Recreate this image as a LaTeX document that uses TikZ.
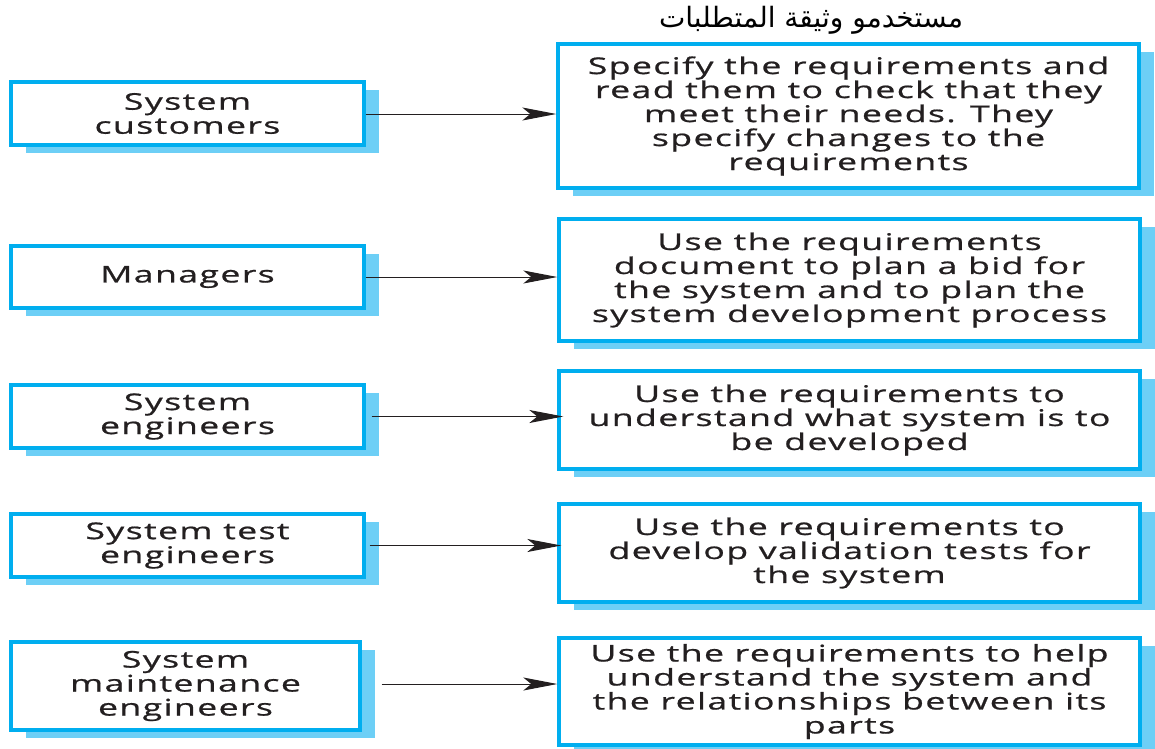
\documentclass[tikz,border=0pt]{standalone}
\usepackage{fontspec}
\setmainfont{Open Sans}[FakeStretch=1.55, LetterSpace=6, FakeBold=0.8]
\newfontfamily\arabicfont[Script=Arabic]{DejaVu Sans}
\TeXXeTstate=1
\usetikzlibrary{arrows.meta,shadows}
\definecolor{edgeblue}{HTML}{00AEEF}
\definecolor{shadeblue}{HTML}{6DCFF6}
\definecolor{inkdark}{HTML}{231F20}
\tikzset{
  rolebox/.style={draw=edgeblue, line width=3.4pt, fill=white, text=inkdark,
    align=center, inner sep=0pt,
    font=\fontsize{23}{24}\selectfont,
    drop shadow={shadow xshift=15pt, shadow yshift=-8pt, fill=shadeblue, opacity=1}},
  leftbox/.style={rolebox, minimum width=353pt},
  rightbox/.style={rolebox, minimum width=581pt},
  arr/.style={draw=inkdark, line width=1pt, -{Stealth[length=34pt, width=13pt, inset=8pt]}}
}
\begin{document}
\begin{tikzpicture}[x=1pt, y=-1pt]
\useasboundingbox (0,0) rectangle (1155,748);

% heading
\node (title) at (811,20) {\arabicfont\fontsize{28}{30}\selectfont\beginR مستخدمو وثيقة المتطلبات\endR};

% reader groups
\node[leftbox, minimum height=63pt] (l1) at (187.5,113.5) {System\\customers};
\node[leftbox, minimum height=62pt] (l2) at (187.5,277) {Managers};
\node[leftbox, minimum height=63pt] (l3) at (187.5,416.5) {System\\engineers};
\node[leftbox, minimum height=63pt] (l4) at (187.5,545.5) {System test\\engineers};
\node[leftbox, minimum width=349pt, minimum height=88pt] (l5) at (185.5,686) {System\\maintenance\\engineers};

% how each group uses the document
\node[rightbox, minimum height=144pt] (r1) at (848.5,116) {Specify the requirements and\\read them to check that they\\meet their needs. They\\specify changes to the\\requirements};
\node[rightbox, minimum height=122pt] (r2) at (849.5,280) {Use the requirements\\document to plan a bid for\\the system and to plan the\\system development process};
\node[rightbox, minimum height=98pt] (r3) at (849.5,420) {Use the requirements to\\understand what system is to\\be developed};
\node[rightbox, minimum height=98pt] (r4) at (849.5,553) {Use the requirements to\\develop validation tests for\\the system};
\node[rightbox, minimum height=107pt] (r5) at (849.5,691.5) {Use the requirements to help\\understand the system and\\the relationships between its\\parts};

% connectors
\draw[arr] ([yshift=-0.5pt]l1.east) -- ([yshift=-0.5pt]l1.east -| r1.west);
\draw[arr] (l2.east) -- (l2.east -| r2.west);
\draw[arr] ([xshift=6pt]l3.east) -- ([xshift=6pt]l3.east -| r3.west);
\draw[arr] ([xshift=4pt]l4.east) -- ([xshift=4pt]l4.east -| r4.west);
\draw[arr] ([xshift=20pt,yshift=2pt]l5.east) -- ([yshift=2pt]l5.east -| r5.west);
\end{tikzpicture}
\end{document}
